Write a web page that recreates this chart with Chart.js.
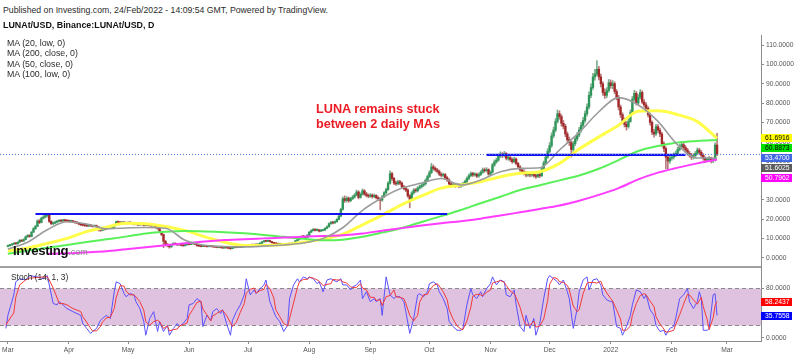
<!DOCTYPE html>
<html><head><meta charset="utf-8">
<script src="https://cdn.jsdelivr.net/npm/chart.js@4.4.0/dist/chart.umd.min.js"></script>
<style>
html,body{margin:0;padding:0;background:#fff;}
#wrap{position:relative;width:800px;height:357px;overflow:hidden;font-family:"Liberation Sans",Arial,sans-serif;}
canvas{position:absolute;left:0;}
#c1{top:35px;}
#c2{top:266px;}
.t{position:absolute;white-space:nowrap;color:#2b2b2b;line-height:10px;}
</style></head><body>
<div id="wrap">
<canvas id="c1" width="800" height="231" style="width:800px;height:231px"></canvas>
<canvas id="c2" width="800" height="91" style="width:800px;height:91px"></canvas>
<div class="t" style="left:3px;top:5px;font-size:8.7px;">Published on Investing.com, 24/Feb/2022 - 14:09:54 GMT, Powered by TradingView.</div>
<div class="t" style="left:3px;top:20px;font-size:8.9px;font-weight:bold;color:#111;">LUNAt/USD, Binance:LUNAt/USD, D</div>
<div class="t" style="left:7px;top:38px;font-size:8.8px;">MA (20, low, 0)</div>
<div class="t" style="left:7px;top:48px;font-size:8.8px;">MA (200, close, 0)</div>
<div class="t" style="left:7px;top:58.5px;font-size:8.8px;">MA (50, close, 0)</div>
<div class="t" style="left:7px;top:69px;font-size:8.8px;">MA (100, low, 0)</div>
<div class="t" style="left:316px;top:102px;font-size:12.7px;line-height:15px;font-weight:bold;color:#ec1c24;">LUNA remains stuck</div>
<div class="t" style="left:316px;top:117px;font-size:12.7px;line-height:15px;font-weight:bold;color:#ec1c24;">between 2 daily MAs</div>
<div class="t" style="left:13px;top:244px;font-size:13.2px;line-height:14px;font-weight:bold;color:#111;letter-spacing:-0.3px;">Investing<span style="font-weight:normal;font-size:9px;color:#8a8a8a;letter-spacing:0;">.com</span></div>
<div class="t" style="left:11px;top:272px;font-size:8.4px;">Stoch (14, 1, 3)</div>
</div>
<script>
// ---------------- DATA ----------------
const firstOpen = 5.8;
const closes = [
6.2,6.6,7.0,7.4,7.2,8.0,9.0,8.6,9.4,10.8,11.5,11.0,13.2,15.0,16.2,19.0,18.2,20.4,21.0,21.8,22.0,18.8,17.6,17.9,18.4,18.8,19.2,19.0,19.3,19.1,19.0,
18.8,19.0,18.6,18.2,18.0,17.4,17.0,16.8,16.6,16.4,16.9,16.5,16.2,16.6,16.0,14.6,14.2,15.0,14.8,15.2,15.5,15.3,15.8,17.0,18.6,18.2,18.0,18.3,18.0,17.8,
18.1,18.0,17.6,17.3,17.6,17.0,17.4,17.2,16.8,17.1,16.9,16.7,16.5,16.8,15.8,15.2,13.5,12.0,8.5,7.0,6.2,5.6,6.8,7.4,7.0,6.6,6.9,6.4,6.2,6.7,7.0,
6.8,7.2,7.4,6.9,6.2,6.0,5.8,6.1,5.9,5.7,6.0,5.8,5.6,5.5,5.3,5.4,5.2,5.0,5.3,5.1,4.9,4.7,5.2,5.4,5.3,5.5,5.4,5.6,5.9,6.3,
6.4,6.6,6.5,6.7,6.6,7.0,7.5,8.2,8.7,8.5,8.8,8.4,7.8,7.4,7.2,7.0,7.1,6.8,7.0,6.9,7.2,7.0,7.3,7.6,8.8,9.4,10.2,11.0,10.8,10.4,11.6,
13.2,14.0,14.6,14.2,14.4,13.8,14.1,14.3,15.2,16.0,17.6,18.2,18.0,18.6,19.8,21.5,25.0,30.5,29.6,30.8,29.5,30.6,31.4,32.4,34.0,31.2,32.8,34.6,33.0,32.2,31.8,
32.4,31.6,32.2,31.0,30.4,29.8,31.5,33.6,35.2,38.5,43.5,41.0,38.6,38.2,39.3,38.6,36.7,35.8,35.0,32.0,30.2,33.5,35.0,34.6,36.0,36.7,37.5,38.2,40.0,42.0,
44.0,47.0,46.2,45.4,44.6,43.2,42.6,43.0,41.4,40.2,38.2,37.4,38.0,37.2,37.8,37.0,37.6,38.2,39.4,41.0,42.4,43.6,42.8,43.2,42.2,43.0,44.2,45.4,45.0,45.6,43.2,
44.2,48.0,49.6,50.5,52.6,53.4,52.8,53.8,51.4,51.8,50.8,49.7,51.0,48.8,47.0,45.4,44.5,43.8,42.8,43.5,42.8,43.6,42.6,42.0,43.0,42.4,46.0,49.0,52.0,55.0,
58.0,63.0,66.0,70.5,74.5,73.0,69.5,68.0,64.0,61.0,59.5,56.0,59.0,61.5,63.5,66.0,68.5,71.0,74.5,78.0,84.0,88.0,93.5,95.0,97.5,93.5,90.0,85.5,84.0,86.5,90.5,
89.0,90.0,86.0,83.0,78.0,74.0,71.0,69.0,67.8,70.5,75.0,82.0,85.0,80.0,83.0,85.5,80.5,79.0,77.3,74.0,70.0,65.0,64.0,67.8,66.0,64.0,59.0,56.5,52.0,50.0,51.5,
52.0,53.0,54.0,56.0,57.4,58.5,57.0,55.7,54.0,53.0,52.0,52.8,54.0,55.7,54.5,53.0,51.4,50.5,50.8,51.4,50.2,50.5,58.3,53.47];
const highs = [
6.5,6.9,7.3,7.7,7.8,8.3,9.4,9.3,9.8,11.2,12.0,11.9,13.6,15.6,16.8,19.6,19.8,21.0,21.8,22.4,22.6,22.2,19.2,18.4,18.9,19.3,19.7,19.6,19.8,19.7,19.5,
19.4,19.4,19.3,18.9,18.6,18.3,17.8,17.3,17.2,17.0,17.3,17.2,16.9,17.0,16.9,16.2,15.0,15.4,15.4,15.6,15.9,15.9,16.2,17.4,19.0,19.0,18.6,18.7,18.6,18.4,
18.5,18.5,18.3,17.9,17.9,17.8,17.7,17.7,17.4,17.4,17.4,17.2,17.0,17.1,17.0,16.1,15.5,13.8,12.3,9.0,7.4,6.5,7.1,7.8,7.7,7.2,7.2,7.1,6.7,6.9,7.3,
7.3,7.5,7.8,7.5,7.0,6.4,6.2,6.3,6.3,6.0,6.2,6.2,6.0,5.8,5.7,5.6,5.6,5.4,5.5,5.5,5.3,5.1,5.4,5.6,5.6,5.7,5.7,5.8,6.1,6.5,
6.6,6.8,6.8,6.9,6.9,7.2,7.8,8.5,9.0,8.9,9.1,8.9,8.5,7.9,7.6,7.4,7.3,7.2,7.2,7.2,7.4,7.4,7.5,7.9,9.1,9.8,10.6,11.4,11.5,11.0,12.0,
13.6,14.5,15.1,15.0,14.9,14.6,14.5,14.7,15.6,16.5,18.1,18.8,18.7,19.1,20.3,22.0,25.6,31.5,32.0,31.6,31.4,31.2,32.2,33.2,35.0,34.6,33.6,35.6,35.2,33.8,33.0,
33.2,33.0,32.9,32.6,31.6,31.0,32.2,34.2,36.0,39.4,45.0,44.2,41.6,39.6,40.2,40.0,39.2,37.4,36.6,35.6,32.6,34.2,35.8,35.8,36.8,37.6,38.4,39.0,40.8,42.8,
45.0,48.8,48.0,47.0,46.2,45.4,44.0,43.8,43.6,42.0,40.8,39.0,38.8,38.6,38.6,38.4,38.4,39.0,40.2,41.8,43.2,44.4,44.2,44.0,43.8,43.8,45.0,46.4,46.4,46.6,46.0,
45.0,48.8,50.6,51.6,53.6,54.8,54.4,55.0,54.4,52.8,52.6,51.6,52.0,51.6,49.4,47.6,46.2,45.4,44.6,44.4,44.2,44.4,44.2,43.4,43.8,43.8,46.8,50.0,53.2,56.4,
59.6,64.6,67.6,72.0,76.4,76.0,74.0,71.0,69.0,65.0,62.4,60.4,60.2,62.8,64.8,67.4,70.0,72.6,76.0,79.6,85.8,90.0,95.4,97.4,102.0,99.0,95.0,91.0,87.4,88.0,92.2,
92.0,91.6,91.0,87.0,84.0,79.0,75.0,72.4,70.4,71.8,76.4,83.4,86.6,86.0,84.4,87.0,86.4,81.8,80.2,78.2,74.8,70.8,66.4,69.0,68.8,67.0,64.8,60.0,57.4,53.4,52.8,
53.4,54.2,55.2,57.2,58.8,60.2,59.4,58.0,56.6,55.0,54.0,53.8,55.0,56.8,56.6,55.4,53.8,52.2,51.8,52.4,52.0,51.4,59.4,64.4];
const lows = [
5.6,6.0,6.4,6.8,6.9,7.0,7.8,8.3,8.4,9.2,10.5,10.6,10.8,13.0,14.6,16.0,17.6,18.0,20.0,20.6,21.0,18.2,17.0,17.0,17.5,18.0,18.5,18.6,18.7,18.7,18.6,
18.4,18.4,18.2,17.8,17.6,17.0,16.6,16.4,16.2,16.0,16.1,16.1,15.8,15.9,15.5,13.8,13.6,13.9,14.3,14.5,14.9,14.9,15.0,15.6,16.8,17.8,17.6,17.7,17.6,17.4,
17.5,17.6,17.2,16.9,17.0,16.6,16.7,16.8,16.4,16.5,16.5,16.3,16.1,16.2,15.3,14.6,13.0,11.4,5.2,6.4,5.6,4.9,5.4,6.6,6.7,6.3,6.4,6.1,5.9,6.0,6.5,
6.6,6.7,7.0,6.7,6.0,5.8,5.6,5.7,5.7,5.5,5.6,5.6,5.4,5.3,5.1,5.1,5.0,4.8,4.9,4.9,4.6,4.3,4.6,5.0,5.1,5.2,5.2,5.3,5.5,5.8,
6.1,6.2,6.3,6.3,6.4,6.5,6.9,7.4,8.0,8.2,8.3,8.1,7.5,7.1,6.9,6.8,6.8,6.6,6.6,6.7,6.8,6.8,6.9,7.2,7.5,8.6,9.2,10.0,10.4,10.0,10.3,
11.4,13.0,13.8,13.8,13.9,13.4,13.5,13.8,14.1,15.0,15.8,17.2,17.5,17.7,18.4,19.5,21.2,24.6,28.6,28.8,28.6,29.0,30.0,30.8,32.0,30.4,30.8,32.4,32.2,31.4,31.0,
31.2,30.8,31.0,30.4,29.6,24.8,29.2,31.0,33.0,34.8,38.0,40.0,37.8,37.4,37.6,37.8,36.0,35.0,34.2,31.2,25.8,29.6,32.8,33.8,34.0,35.4,36.0,36.8,37.6,39.4,
41.4,43.4,45.2,44.6,43.8,42.4,41.8,41.8,40.6,39.4,37.4,36.6,36.8,36.4,36.6,36.2,36.4,37.0,37.8,38.8,40.4,41.8,42.0,42.2,41.4,41.6,42.4,43.6,44.2,44.4,42.6,
42.6,43.8,47.2,48.8,49.8,51.8,51.8,52.0,50.6,50.4,49.8,48.8,49.0,48.0,46.2,44.6,43.6,42.8,41.8,42.0,41.8,42.0,41.6,41.0,41.4,41.4,42.0,45.4,48.4,51.4,
54.2,57.0,62.0,65.0,69.6,71.6,68.0,66.6,62.6,59.6,58.0,52.0,55.0,58.0,60.4,62.6,65.0,67.4,70.0,73.4,77.0,82.8,87.0,91.8,94.0,92.0,88.4,84.0,82.4,82.8,85.6,
87.6,87.4,84.8,81.6,76.4,72.6,69.6,67.6,66.0,67.0,70.0,74.4,81.0,79.0,79.2,82.0,79.6,77.8,76.0,72.8,68.6,63.6,62.4,63.2,64.8,62.6,57.6,54.8,46.0,45.4,48.8,
50.4,51.0,52.2,53.2,55.2,56.6,56.0,54.6,53.0,52.0,50.8,51.0,52.0,53.2,53.6,52.0,50.4,49.4,49.6,50.0,49.0,49.2,50.0,52.8];

// moving averages, read every 10 days (day 0 = 1 Mar 2021)
const maDays     = [0,10,20,30,40,50,60,70,80,90,100,110,120,130,140,150,160,170,180,190,200,210,220,230,240,250,260,270,280,290,300,310,320,330,340,350,360];
const ma20Low    = [4.5,8.0,14.5,18.6,17.4,15.0,15.4,15.6,15.2,9.0,6.4,5.8,5.6,6.0,6.6,7.6,10.0,15.5,24.5,31.0,36.0,38.6,41.0,37.6,40.2,44.5,46.2,46.5,55.7,64.8,75.5,82.8,79.0,70.5,58.3,51.6,51.6];
const ma50Close  = [3.5,5.0,7.4,10.0,13.5,15.8,17.8,17.6,16.1,14.0,10.8,8.0,6.3,6.3,6.8,8.0,9.6,12.2,17.0,22.0,27.5,32.0,36.0,37.6,39.3,41.9,43.7,44.5,48.8,56.2,62.5,68.5,75.8,76.0,74.0,70.4,61.7];
const ma100Low   = [2.0,3.6,5.2,6.6,8.1,9.5,10.9,12.5,13.4,13.8,13.6,13.2,12.6,11.8,10.8,9.8,9.0,9.3,10.8,13.0,15.4,18.5,21.5,24.7,28.2,31.5,35.0,37.5,40.0,42.5,46.0,50.5,55.2,57.8,59.6,60.4,60.9];
const ma200Close = [null,null,2.0,2.3,2.8,3.3,4.4,5.4,6.5,7.5,8.4,9.1,9.6,10.0,10.4,10.9,11.2,11.6,12.5,14.0,15.3,16.6,17.8,18.9,20.2,21.8,23.5,25.2,27.0,29.5,32.5,36.0,40.5,44.0,46.6,48.8,50.8];

// drawn horizontal levels
const levelStart = [14, 243];
const levelEnd   = [223, 344];
const levelValue = [22.6, 53.2];

// right-axis value badges
const priceBadges = [61.6916, 60.8873, 53.4700, 51.6025, 50.7962]; // MA50, MA100, price, MA20, MA200
const stochBadges = [58.2437, 35.7558]; // %D, %K

// stochastic (14,1,3)
const stochDays = [-1,0,3,4,6,9,11,15,18,20,21,23,25,26,28,30,33,37,38,40,42,43,45,47,48,50,52,54,55,57,59,60,62,64,65,67,69,70,72,74,76,77,79,81,82,84,86,87,89,91,92,94,96,98,99,101,103,104,106,108,109,111,113,114,116,118,120,121,123,125,126,128,130,131,133,135,136,138,140,142,143,145,147,148,150,152,153,155,157,158,160,162,164,165,167,169,170,172,174,175,177,179,180,182,184,186,187,189,190,192,194,196,197,199,201,202,204,206,208,209,211,213,214,216,218,219,221,223,224,226,228,230,231,233,235,236,238,240,241,243,245,246,248,250,252,253,255,257,258,260,262,263,265,267,268,270,272,274,275,277,279,280,282,284,285,287,289,290,292,294,295,297,299,301,302,304,306,307,309,311,312,314,316,317,319,321,323,324,326,328,329,331,333,334,336,338,339,341,343,345,346,348,350,351,352,353,355,356,358,359,360];
const stochK = [15,36,69,90,95,93,100,98,95,100,85,55,53,58,53,47,42,36,23,15,7,10,15,28,31,36,31,74,90,87,71,66,71,69,58,47,26,4,31,42,10,26,10,20,4,15,23,18,23,31,53,55,63,58,18,36,28,42,47,39,45,23,4,28,42,53,69,95,69,77,71,79,85,93,58,42,34,26,10,20,63,85,95,90,98,95,98,95,87,90,74,93,95,93,90,95,85,85,77,82,85,93,63,74,58,63,58,63,36,98,69,63,66,66,58,42,7,31,69,71,66,74,87,90,85,74,63,47,26,18,12,12,15,53,79,69,63,74,66,79,87,98,85,93,90,69,66,77,53,18,10,36,15,31,4,23,63,95,100,95,90,85,93,74,63,15,47,74,93,98,77,93,95,85,69,61,58,58,18,15,4,18,36,53,77,74,63,69,45,36,20,10,12,4,15,18,31,63,69,79,58,47,58,74,63,12,12,15,69,71,35.76];
const stochD = [20,26,40,65,85,93,96,97,98,98,93,80,64,55,55,53,47,42,34,25,15,11,11,18,25,32,33,47,65,84,83,75,69,69,66,58,44,26,20,26,28,26,15,19,11,13,14,19,21,24,36,46,57,59,46,37,27,35,39,43,44,36,24,18,25,41,55,72,78,80,72,76,78,86,79,64,45,34,23,19,31,56,81,90,94,94,97,96,93,91,84,86,87,94,93,93,90,88,82,81,81,87,80,77,65,65,60,61,52,66,68,77,66,65,63,55,36,27,36,57,69,70,76,84,87,83,74,61,45,30,19,14,13,27,49,67,70,69,68,73,77,88,90,92,89,84,75,71,65,49,27,21,20,27,17,19,30,60,86,97,95,90,89,84,77,51,42,45,71,88,89,89,88,91,83,72,63,59,45,30,12,12,19,36,55,68,71,69,59,50,34,22,14,9,10,12,21,37,54,70,69,61,54,60,65,50,29,13,32,52,58.24];
const stochLevels = [20, 80];

// axis ticks
const priceTicks = [0,10,20,30,40,50,60,70,80,90,100,110];
const stochTicks = [0,80];
const monthDays   = [0,31,61,92,122,153,184,214,245,275,306,337,365];
const monthLabels = ['Mar','Apr','May','Jun','Jul','Aug','Sep','Oct','Nov','Dec','2022','Feb','Mar'];

// ---------------- CHARTS ----------------
const FONT = '"Liberation Sans", Arial, sans-serif';
Chart.defaults.font.family = FONT;
Chart.defaults.animation = false;

const opens = [firstOpen].concat(closes.slice(0, -1));
const isUp = i => closes[i] >= opens[i];
const X_MIN = -4.0, X_MAX = 382.3;

function pts(days, vals) { return days.map((d, i) => ({x: d, y: vals[i]})); }

function badgePlugin(id, vals, styles) {
  return { id, afterDraw(chart) {
    const {ctx, chartArea, scales} = chart;
    const y = scales.y;
    ctx.save();
    ctx.font = '6.8px ' + FONT;
    ctx.textBaseline = 'middle';
    let prev = -1e9;
    vals.map((v, i) => ({v, s: styles[i]})).sort((a, b) => b.v - a.v).forEach(it => {
      let py = Math.max(y.getPixelForValue(it.v), prev + 9.8);
      prev = py;
      ctx.fillStyle = it.s[0];
      ctx.fillRect(chartArea.right, Math.round(py) - 4, 31, 8);
      ctx.fillStyle = it.s[1];
      ctx.fillText(it.v.toFixed(4), chartArea.right + 4, Math.round(py) + 0.5);
    });
    ctx.restore();
  }};
}

const priceLinePlugin = { id: 'priceLine', afterDatasetsDraw(chart) {
  const {ctx, chartArea, scales} = chart;
  const py = Math.round(scales.y.getPixelForValue(closes[closes.length - 1])) + 0.5;
  ctx.save();
  ctx.strokeStyle = '#4f74de'; ctx.lineWidth = 1; ctx.setLineDash([1, 2]);
  ctx.beginPath(); ctx.moveTo(chartArea.left, py); ctx.lineTo(chartArea.right, py); ctx.stroke();
  ctx.restore();
}};

const lineDs = (data, color, w, order) => ({type: 'line', data, borderColor: color, borderWidth: w,
  pointRadius: 0, cubicInterpolationMode: 'monotone', spanGaps: false, order});

new Chart(document.getElementById('c1'), {
  data: { datasets: [
    {type: 'bar', order: 3, grouped: false, barThickness: 1,
      data: closes.map((c, i) => ({x: i, y: [lows[i], highs[i]]})),
      backgroundColor: ctx => isUp(ctx.dataIndex) ? '#7fae8f' : '#b97a7a'},
    {type: 'bar', order: 2, grouped: false, barThickness: 1.7, minBarLength: 1,
      data: closes.map((c, i) => ({x: i, y: [opens[i], c]})),
      backgroundColor: ctx => isUp(ctx.dataIndex) ? '#2f9659' : '#a3282a'},
    lineDs(pts(maDays, ma200Close), '#ff3cff', 2, 1),
    lineDs(pts(maDays, ma100Low), '#59f059', 2, 1),
    lineDs(pts(maDays, ma50Close), '#ffff4a', 3, 1),
    lineDs(pts(maDays, ma20Low), '#9c9c9c', 1.6, 0),
    ...levelValue.map((v, i) => ({type: 'line', order: -1, data: [{x: levelStart[i], y: v}, {x: levelEnd[i], y: v}],
      borderColor: '#1212f2', borderWidth: 2.2, pointRadius: 0}))
  ]},
  options: {
    responsive: false, animation: false,
    layout: {padding: 0},
    plugins: {legend: {display: false}, tooltip: {enabled: false}},
    scales: {
      x: {type: 'linear', min: X_MIN, max: X_MAX, offset: false, grid: {offset: false}, display: false},
      y: {type: 'linear', position: 'right', min: -4.29, max: 115.2,
        afterBuildTicks: s => { s.ticks = priceTicks.map(v => ({value: v})); },
        afterFit: s => { s.width = 39; s.paddingTop = 0; s.paddingBottom = 0; },
        ticks: {font: {size: 6.7}, color: '#555', padding: 2, callback: v => Number(v).toFixed(4)},
        grid: {drawOnChartArea: false, tickLength: 3, color: '#8c8c8c'},
        border: {color: '#8c8c8c'}}
    }
  },
  plugins: [priceLinePlugin, badgePlugin('pb', priceBadges,
    [['#ffff00', '#000'], ['#00e000', '#000'], ['#4169e1', '#fff'], ['#5c5c5c', '#fff'], ['#ff00ff', '#fff']])]
});

const bandPlugin = { id: 'band', beforeDatasetsDraw(chart) {
  const {ctx, chartArea, scales} = chart;
  const y1 = Math.round(scales.y.getPixelForValue(stochLevels[1])) + 0.5;
  const y0 = Math.round(scales.y.getPixelForValue(stochLevels[0])) + 0.5;
  ctx.save();
  ctx.fillStyle = '#dfc2df';
  ctx.fillRect(chartArea.left, y1, chartArea.right - chartArea.left, y0 - y1);
  ctx.strokeStyle = '#8a8a8a'; ctx.lineWidth = 1; ctx.setLineDash([4, 3]);
  [y1, y0].forEach(py => { ctx.beginPath(); ctx.moveTo(chartArea.left, py); ctx.lineTo(chartArea.right, py); ctx.stroke(); });
  ctx.setLineDash([]);
  ctx.strokeStyle = '#a0a0a0'; ctx.lineWidth = 2;
  ctx.beginPath(); ctx.moveTo(0, 1); ctx.lineTo(chartArea.right, 1); ctx.stroke();
  ctx.restore();
}};

new Chart(document.getElementById('c2'), {
  data: { datasets: [
    {type: 'line', order: 1, data: pts(stochDays, stochK), borderColor: '#5a50ff', borderWidth: 1, pointRadius: 0, tension: 0},
    {type: 'line', order: 0, data: pts(stochDays, stochD), borderColor: '#f23a3a', borderWidth: 1, pointRadius: 0, tension: 0}
  ]},
  options: {
    responsive: false, animation: false,
    layout: {padding: 0},
    plugins: {legend: {display: false}, tooltip: {enabled: false}},
    scales: {
      x: {type: 'linear', min: X_MIN, max: X_MAX, position: 'bottom', offset: false,
        afterBuildTicks: s => { s.ticks = monthDays.map(v => ({value: v})); },
        afterFit: s => { s.height = 16; s.paddingLeft = 0; s.paddingRight = 0; },
        ticks: {autoSkip: false, maxRotation: 0, font: {size: 6.7}, color: '#555', padding: 2,
          callback: v => monthLabels[monthDays.indexOf(v)]},
        grid: {drawOnChartArea: false, tickLength: 3, color: '#8c8c8c'},
        border: {color: '#8c8c8c'}},
      y: {type: 'linear', position: 'right', min: -5.3, max: 115.5,
        afterBuildTicks: s => { s.ticks = stochTicks.map(v => ({value: v})); },
        afterFit: s => { s.width = 39; s.paddingTop = 0; s.paddingBottom = 0; },
        ticks: {font: {size: 6.7}, color: '#555', padding: 2, callback: v => Number(v).toFixed(4)},
        grid: {drawOnChartArea: false, tickLength: 3, color: '#8c8c8c'},
        border: {color: '#8c8c8c'}}
    }
  },
  plugins: [bandPlugin, badgePlugin('sb', stochBadges, [['#ff0000', '#fff'], ['#0000ff', '#fff']])]
});
</script>
</body></html>
